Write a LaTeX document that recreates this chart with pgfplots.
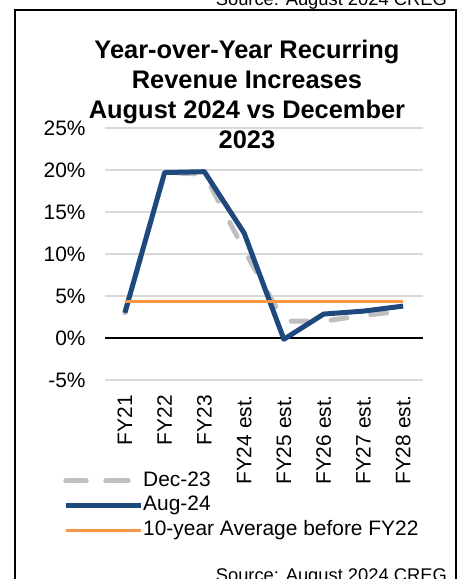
\documentclass[border=0pt]{standalone}
\usepackage{fontspec}
\setmainfont{Liberation Sans}
\usepackage{pgfplots}
\pgfplotsset{compat=1.18}

\definecolor{augblue}{HTML}{1F497D}
\definecolor{decgray}{HTML}{BFBFBF}
\definecolor{avgorange}{HTML}{F79646}
\definecolor{gridgray}{HTML}{D9D9D9}

\begin{document}
\begin{tikzpicture}
\useasboundingbox (0bp,0bp) rectangle (461bp,-579bp);
% frame and source notes
\draw[line width=1.5bp] (15bp,-10bp) rectangle (456bp,-610bp);
\node[anchor=base east, inner sep=0pt, font=\fontsize{18.4}{22}\selectfont] at (447bp,-5bp) {Source: August 2024 CREG};
\node[anchor=base east, inner sep=0pt, font=\fontsize{18.4}{22}\selectfont] at (447bp,-581.5bp) {Source: August 2024 CREG};

\begin{axis}[
  at={(105bp,-380bp)}, anchor=south west,
  scale only axis, width=318bp, height=252bp,
  xmin=-0.5, xmax=7.5, ymin=-5, ymax=25,
  axis line style={draw=none},
  major tick length=0pt,
  xtick={0,...,7},
  xticklabels={FY21,FY22,FY23,FY24 est.,FY25 est.,FY26 est.,FY27 est.,FY28 est.},
  ytick={-5,0,...,25},
  yticklabel={\pgfmathprintnumber{\tick}\%},
  /pgf/number format/assume math mode=true,
  tick label style={font=\fontsize{21}{25}\selectfont, inner sep=0pt},
  yticklabel style={anchor=east, xshift=-19.3bp},
  xticklabel style={yshift=-15bp, rotate=90, anchor=east},
  ymajorgrids, grid style={gridgray, line width=1.5bp},
  clip=false,
  legend style={at={(rel axis cs:-0.132,-0.359)}, anchor=north west,
    draw=none, fill=none, inner sep=0pt,
    font=\fontsize{21}{25}\selectfont,
    row sep=4.8bp,
    nodes={inner sep=0pt, text height=15.5bp, text depth=4.5bp}},
  legend cell align=left,
]
\draw[black, line width=1.6bp] (axis cs:-0.5,0) -- (axis cs:7.5,0);

\addplot[decgray, line width=5bp, line cap=round, dash pattern=on 16bp off 24bp,
  legend image code/.code={\draw[decgray, line width=5bp, line cap=round, dash pattern=on 18bp off 24bp] (2.5bp,0bp) -- (69.5bp,0bp);
    \path (0bp,0bp) -- (75bp,0bp);}]
coordinates {(0,3.0) (1,19.7) (2,19.5) (3,10.5) (4,2.0) (5,2.0) (6,2.7) (7,3.2)};
\addlegendentry{Dec-23}

\addplot[augblue, line width=5bp, line join=round,
  legend image code/.code={\draw[augblue, line width=5bp, line cap=round] (2.5bp,0bp) -- (69.5bp,0bp);
    \path (0bp,0bp) -- (75bp,0bp);}]
coordinates {(0,3.0) (1,19.7) (2,19.8) (3,12.5) (4,-0.15) (5,2.85) (6,3.2) (7,3.8)};
\addlegendentry{Aug-24}

\addplot[avgorange, line width=2.8bp,
  legend image code/.code={\draw[avgorange, line width=2.8bp, line cap=round] (1.5bp,0bp) -- (70.5bp,0bp);
    \path (0bp,0bp) -- (75bp,0bp);}]
coordinates {(0,4.3) (7,4.3)};
\addlegendentry{10-year Average before FY22}
\end{axis}

% title
\begin{scope}[every node/.style={anchor=base, inner sep=0pt, font=\bfseries\fontsize{25.5}{30}\selectfont}]
\node at (247bp,-58bp) {Year-over-Year Recurring};
\node at (247bp,-88bp) {Revenue Increases};
\node at (247bp,-118bp) {August 2024 vs December};
\node at (247bp,-148bp) {2023};
\end{scope}
\end{tikzpicture}
\end{document}
